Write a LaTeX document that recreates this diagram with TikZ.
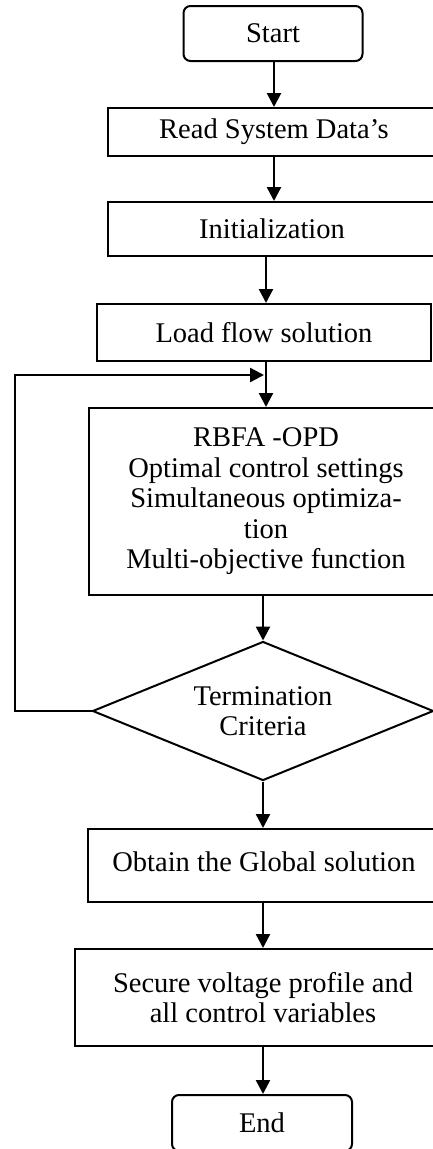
\documentclass[tikz,border=0pt]{standalone}
\usepackage{fontspec}
\setmainfont{Liberation Serif}
\usetikzlibrary{shapes.geometric,arrows.meta,calc}
\begin{document}
\begin{tikzpicture}[x=1pt,y=-1pt,
  every node/.style={font=\fontsize{28.5}{30.5}\selectfont, inner sep=0pt, align=center},
  procbox/.style={draw, line width=2pt, rectangle},
  termbox/.style={draw, line width=2pt, rectangle, rounded corners=7pt},
  decbox/.style={draw, line width=2pt, diamond, aspect=2.45},
  flow/.style={line width=2.4pt, -{Triangle[width=14pt,length=14pt]}}]
\useasboundingbox (0,0) rectangle (433,1149);
\clip (0,0) rectangle (433,1149);
\node[termbox, minimum width=179pt, minimum height=55pt] (start) at (273,33.5) {Start};
\node[procbox, minimum width=332pt, minimum height=48pt] (read) at (274,132) {Read System Data’s};
\node[procbox, minimum width=328pt, minimum height=54pt] (init) at (272,229) {Initialization};
\node[procbox, minimum width=334pt, minimum height=57pt] (lf) at (264,332.5) {Load flow solution};
\node[procbox, minimum width=354pt, minimum height=187pt] (rbfa) at (266,501.5) {RBFA -OPD\\Optimal control settings\\Simultaneous optimiza-\\tion\\Multi-objective function};
\node[decbox, minimum width=341pt, minimum height=139pt] (term) at (263,711) {Termination\\Criteria};
\node[procbox, minimum width=352pt, minimum height=73pt, text depth=8pt] (obt) at (264,865.5) {Obtain the Global solution};
\node[procbox, minimum width=376pt, minimum height=97pt] (sec) at (263,997.5) {Secure voltage profile and\\all control variables};
\node[termbox, minimum width=180pt, minimum height=56pt] (end) at (262,1123) {End};
\coordinate (fbA) at (15,711);
\coordinate (fbB) at (15,375);
\coordinate (fbT) at (264,375);
\draw[flow] (start.south -| 274,0) -- (read.north -| 274,0);
\draw[flow] (read.south -| 274,0) -- (init.north -| 274,0);
\draw[flow] (init.south -| 266,0) -- (lf.north -| 266,0);
\draw[flow] (lf.south -| 266,0) -- (rbfa.north -| 266,0);
\draw[flow] (rbfa.south -| term.north) -- (term.north);
\draw[flow] (term.south) -- (obt.north -| term.south);
\draw[flow] (obt.south -| 263,0) -- (sec.north -| 263,0);
\draw[flow] (sec.south -| 263,0) -- (end.north -| 263,0);
\draw[flow] (term.west) -- (fbA) -- (fbB) -- (fbT);
\end{tikzpicture}
\end{document}
